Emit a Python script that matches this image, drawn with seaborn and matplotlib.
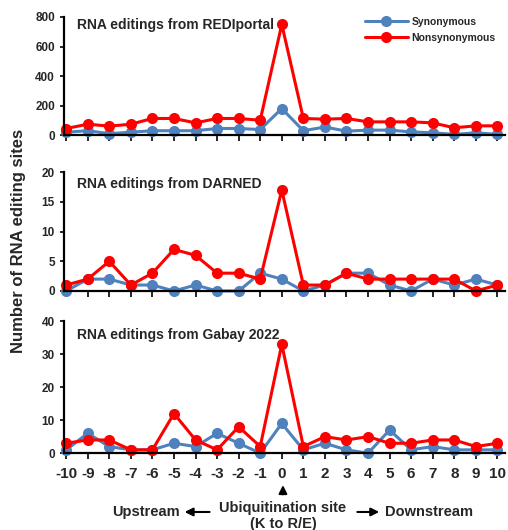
import pandas as pd
import matplotlib
matplotlib.use('Agg')
import matplotlib.pyplot as plt
import seaborn as sns

positions = list(range(-10, 11))

redi_syn = [20, 30, 10, 20, 30, 30, 30, 45, 45, 38, 180, 30, 55, 27, 34, 34, 22, 16, 5, 16, 5]
redi_non = [45, 74, 61, 74, 113, 113, 83, 113, 113, 101, 750, 113, 108, 113, 90, 90, 90, 83, 50, 63, 63]

darned_syn = [0, 2, 2, 1, 1, 0, 1, 0, 0, 3, 2, 0, 1, 3, 3, 1, 0, 2, 1, 2, 1]
darned_non = [1, 2, 5, 1, 3, 7, 6, 3, 3, 2, 17, 1, 1, 3, 2, 2, 2, 2, 2, 0, 1]

gabay_syn = [1, 6, 2, 1, 1, 3, 2, 6, 3, 0, 9, 1, 3, 1, 0, 7, 1, 2, 1, 1, 1]
gabay_non = [3, 4, 4, 1, 1, 12, 4, 1, 8, 2, 33, 2, 5, 4, 5, 3, 3, 4, 4, 2, 3]

titles = ['RNA editings from REDIportal', 'RNA editings from DARNED', 'RNA editings from Gabay 2022']
ylims = [(0, 800), (0, 20), (0, 40)]
yticks = [[0, 200, 400, 600, 800], [0, 5, 10, 15, 20], [0, 10, 20, 30, 40]]
panels = [(redi_syn, redi_non), (darned_syn, darned_non), (gabay_syn, gabay_non)]

sns.set_style('ticks')
plt.rcParams['font.family'] = ['Liberation Sans', 'DejaVu Sans']
plt.rcParams['font.weight'] = 'bold'
plt.rcParams['axes.unicode_minus'] = False

fig = plt.figure(figsize=(5.08, 5.30), dpi=100)
boxes = [[0.126, 0.745, 0.868, 0.223],
         [0.126, 0.451, 0.868, 0.224],
         [0.126, 0.145, 0.868, 0.249]]
title_y = [0.99, 0.96, 0.95]

blue = '#4f81bd'
red = '#ff0000'

for i, (syn, non) in enumerate(panels):
    ax = fig.add_axes(boxes[i])
    df = pd.DataFrame({'pos': positions * 2,
                       'count': syn + non,
                       'type': ['Synonymous'] * 21 + ['Nonsynonymous'] * 21})
    sns.lineplot(data=df, x='pos', y='count', hue='type',
                 palette={'Synonymous': blue, 'Nonsynonymous': red},
                 marker='o', markersize=8, markeredgewidth=0, linewidth=2.2,
                 ax=ax, legend=(i == 0), clip_on=False)
    ax.set_xlim(-10.1, 10.35)
    ax.set_ylim(*ylims[i])
    ax.set_yticks(yticks[i])
    ax.set_xticks(positions)
    ax.set_xlabel('')
    ax.set_ylabel('')
    for s in ['top', 'right']:
        ax.spines[s].set_visible(False)
    for s in ['left', 'bottom']:
        ax.spines[s].set_linewidth(1.6)
        ax.spines[s].set_color('black')
    ax.tick_params(axis='y', labelsize=8.5, width=1.4, length=3)
    ax.tick_params(axis='x', width=1.4, length=4)
    if i < 2:
        ax.set_xticklabels([])
    else:
        ax.tick_params(axis='x', labelsize=11, pad=6)
    for lab in ax.get_yticklabels() + ax.get_xticklabels():
        lab.set_fontweight('bold')
    ax.text(0.03, title_y[i], titles[i], transform=ax.transAxes, fontsize=10,
            fontweight='bold', va='top', ha='left')
    if i == 0:
        leg = ax.legend(loc='upper right', bbox_to_anchor=(1.0, 1.08), frameon=False,
                        fontsize=7.5, handlelength=4.2, handletextpad=0.3,
                        labelspacing=0.6, title=None)
        for t in leg.get_texts():
            t.set_fontweight('bold')

fig.text(0.037, 0.545, 'Number of RNA editing sites', rotation=90, ha='center',
         va='center', fontsize=12, fontweight='bold')

# bottom annotations
fig.text(0.557, 0.027, 'Ubiquitination site\n(K to R/E)', ha='center', va='center',
         fontsize=10.5, fontweight='bold', linespacing=1.15)
fig.text(0.22, 0.034, 'Upstream', ha='left', va='center', fontsize=10.5, fontweight='bold')
fig.text(0.758, 0.034, 'Downstream', ha='left', va='center', fontsize=10.5, fontweight='bold')
arrow = dict(arrowstyle='-|>', color='black', lw=1.5, mutation_scale=12)
fig.add_artist(matplotlib.patches.FancyArrowPatch((0.418, 0.034), (0.358, 0.034),
               transform=fig.transFigure, **arrow))
fig.add_artist(matplotlib.patches.FancyArrowPatch((0.698, 0.034), (0.752, 0.034),
               transform=fig.transFigure, **arrow))
fig.add_artist(matplotlib.patches.FancyArrowPatch((0.557, 0.062), (0.557, 0.09),
               transform=fig.transFigure, **arrow))

fig.savefig('out.png', dpi=100)
